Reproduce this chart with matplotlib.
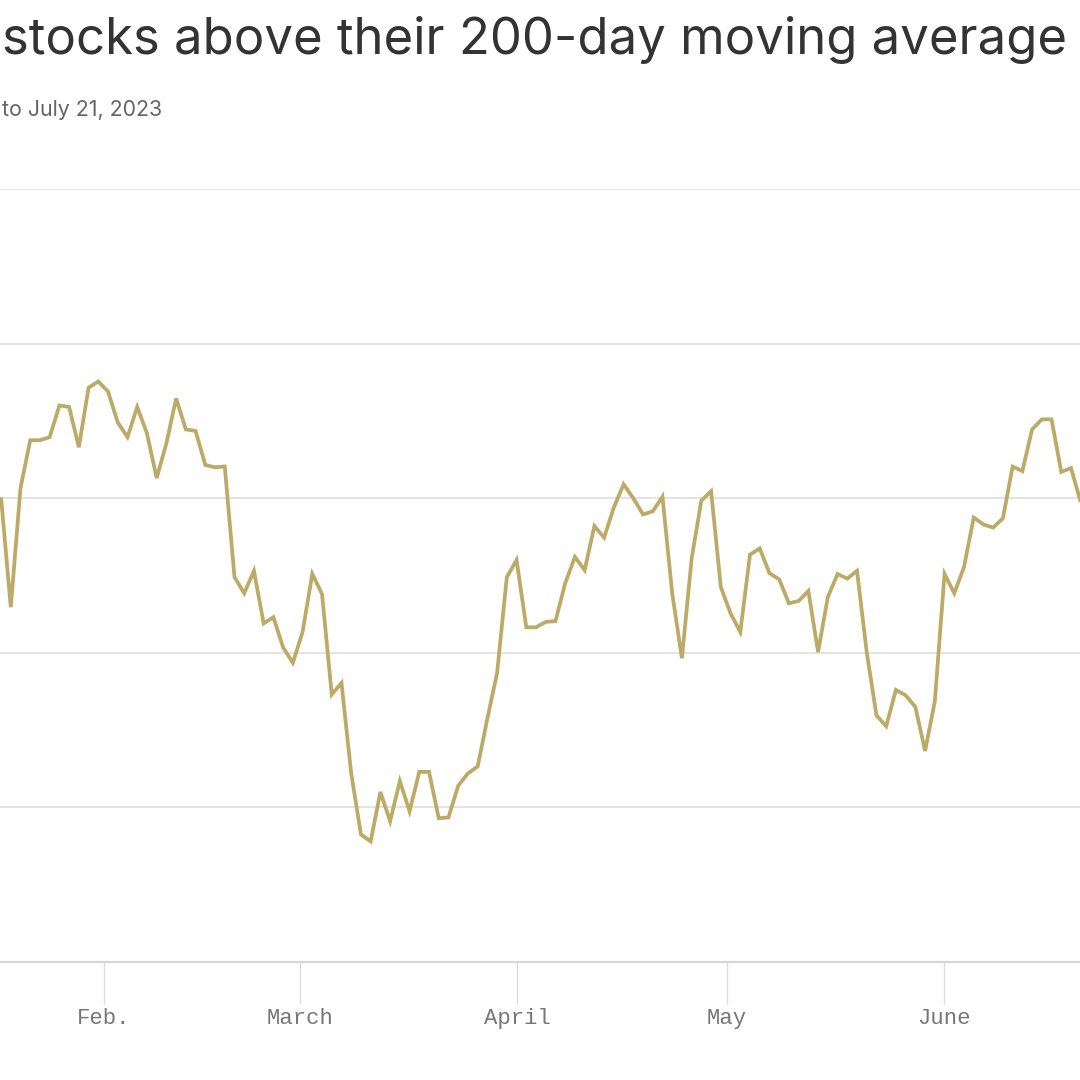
import numpy as np
import pandas as pd
import matplotlib
matplotlib.use("Agg")
import matplotlib.pyplot as plt
import matplotlib.dates as mdates

# ---------------- data ----------------
title_text = "stocks above their 200-day moving average"
subtitle_text = "to July 21, 2023"

series_start = "2023-01-17 07:00"
series_end = "2023-06-20 12:45"
pct_above = [
    60.1, 45.9, 61.3, 67.5, 67.5, 67.9, 72.0, 71.8, 66.6, 74.3,
    75.1, 73.8, 69.8, 67.9, 71.8, 68.4, 62.6, 67.1, 72.9, 68.9,
    68.7, 64.3, 64.0, 64.1, 49.8, 47.7, 50.6, 43.8, 44.6, 40.7,
    38.7, 42.7, 50.2, 47.6, 34.6, 36.1, 24.4, 16.5, 15.6, 22.0,
    18.2, 23.4, 19.5, 24.6, 24.6, 18.6, 18.7, 22.8, 24.4, 25.3,
    31.5, 37.4, 49.8, 52.0, 43.3, 43.3, 44.0, 44.1, 49.0, 52.4,
    50.7, 56.4, 54.9, 58.8, 61.8, 60.0, 57.9, 58.3, 60.2, 47.7,
    39.3, 52.2, 59.7, 60.9, 48.5, 45.1, 42.7, 52.7, 53.5, 50.3,
    49.5, 46.4, 46.7, 48.0, 40.1, 47.2, 50.2, 49.6, 50.6, 40.1,
    31.9, 30.5, 35.2, 34.5, 33.0, 27.3, 33.7, 50.2, 47.7, 51.1,
    57.5, 56.6, 56.2, 57.4, 64.1, 63.5, 68.9, 70.2, 70.2, 63.4,
    63.9, 59.5,
]
y_ticks = [0, 20, 40, 60, 80, 100]
month_ticks = ["2023-02-01", "2023-03-01", "2023-04-01",
               "2023-05-01", "2023-06-01"]
month_labels = ["Feb.", "March", "April", "May", "June"]

# ---------------- styling ----------------
LINE_COLOR = "#bcaa66"
GRID_COLOR = "#e0e0e0"
TITLE_COLOR = "#333333"
SUB_COLOR = "#666666"
TICK_COLOR = "#777777"

W = H = 1080
fig = plt.figure(figsize=(W / 100, H / 100), dpi=100)
fig.patch.set_facecolor("white")

# axes is wider than the canvas (the reference is a crop)
ax_left_px, ax_right_px = -200, 1300
ax_bottom_px, ax_top_px = 962, 189  # from top
ax = fig.add_axes([ax_left_px / W, 1 - ax_bottom_px / H,
                   (ax_right_px - ax_left_px) / W, (ax_bottom_px - ax_top_px) / H])

# x calibration: Feb 1 sits at 104 px, 7 px per day
feb1 = mdates.date2num(pd.Timestamp("2023-02-01"))
px_per_day = 7.0
ax.set_xlim(feb1 + (ax_left_px - 104) / px_per_day,
            feb1 + (ax_right_px - 104) / px_per_day)
ax.set_ylim(0, 100)

x = np.linspace(mdates.date2num(pd.Timestamp(series_start)),
                mdates.date2num(pd.Timestamp(series_end)), len(pct_above))
ax.plot(x, pct_above, color=LINE_COLOR, lw=2.7, solid_joinstyle="miter",
        solid_capstyle="butt", zorder=3, clip_on=False)

# grid
ax.set_yticks(y_ticks)
ax.yaxis.grid(True, color=GRID_COLOR, lw=1.3)
ax.tick_params(axis="y", length=0, labelleft=False)
for s in ["top", "right", "left"]:
    ax.spines[s].set_visible(False)
ax.spines["bottom"].set_color("#d6d6d6")
ax.spines["bottom"].set_linewidth(1.6)
ax.set_axisbelow(True)

# month ticks
ax.set_xticks([mdates.date2num(pd.Timestamp(d)) for d in month_ticks])
ax.set_xticklabels(month_labels, fontfamily="Liberation Mono", fontsize=16,
                   color=TICK_COLOR)
ax.tick_params(axis="x", length=30, width=1.0, color="#dddddd", pad=3)

# title & subtitle (left part cropped in the reference)
t = fig.text(2 / W, 1 - 54 / H, title_text, fontfamily="Inter", fontsize=38,
             color=TITLE_COLOR, ha="left", va="baseline")
s = fig.text(2 / W, 1 - 116 / H, subtitle_text, fontfamily="Inter", fontsize=16,
             color=SUB_COLOR, ha="left", va="baseline")

# fit widths to the reference
fig.canvas.draw()
r = fig.canvas.get_renderer()
tw = t.get_window_extent(r).width
t.set_fontsize(38 * 1066 / tw)
sw = s.get_window_extent(r).width
s.set_fontsize(16 * 161 / sw)

fig.savefig("out.png", dpi=100, facecolor="white")
